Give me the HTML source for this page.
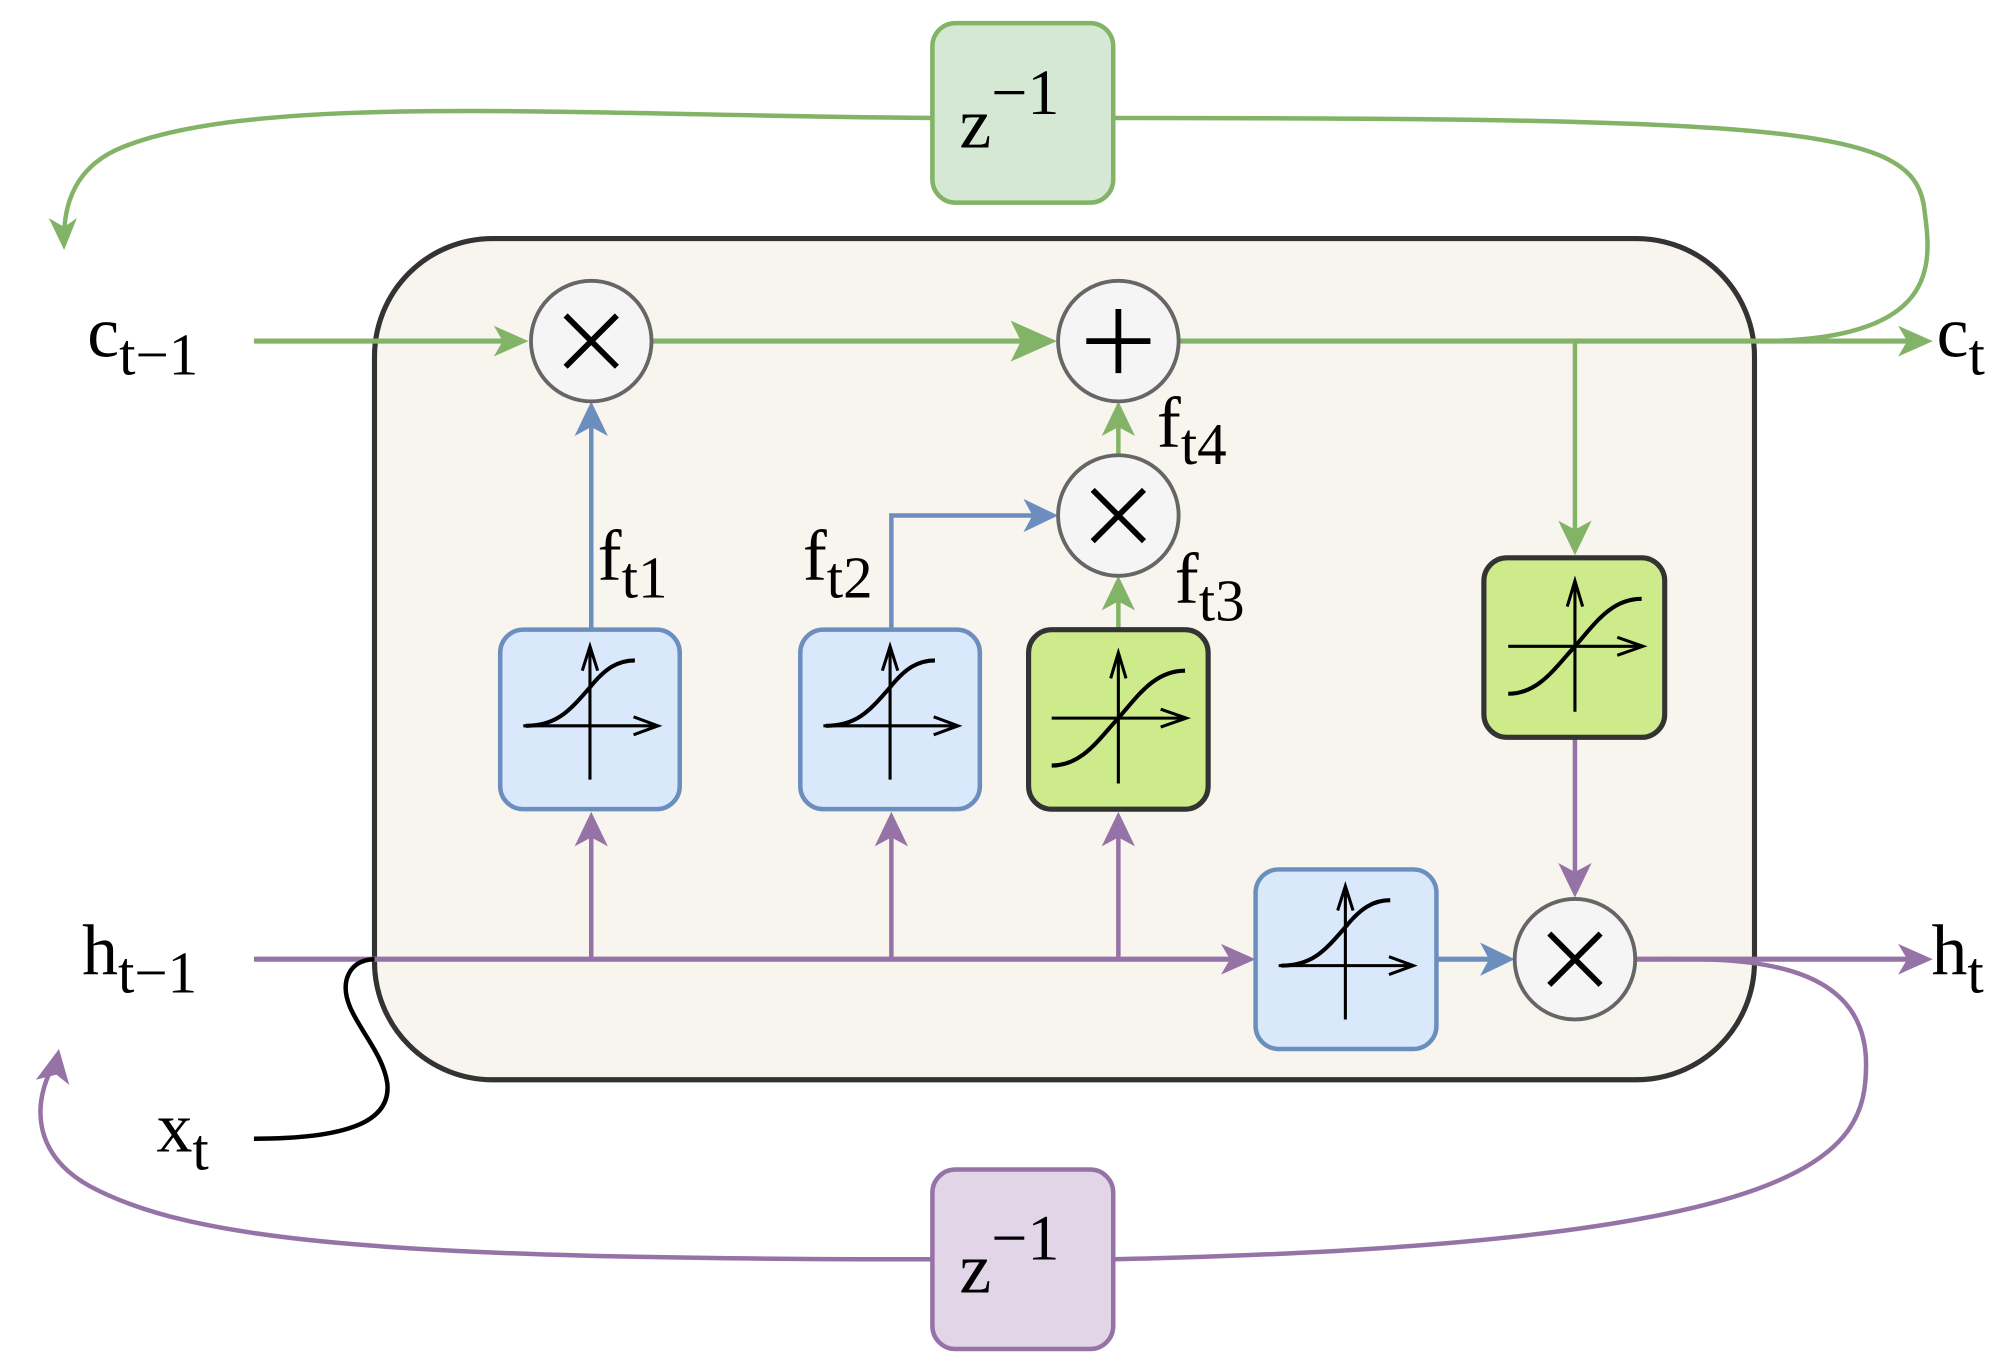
<!DOCTYPE html>
<html><head><meta charset="utf-8"><style>html,body{margin:0;padding:0;background:#fff}svg{display:block}</style></head>
<body>
<svg width="2011" height="1367" viewBox="0 0 1568 1066" preserveAspectRatio="none" xmlns="http://www.w3.org/2000/svg" font-family="'Liberation Serif', serif">
<defs>
<g id="sig"><line x1="0" y1="47" x2="0" y2="-55" stroke="#000" stroke-width="2.4"/><path d="M-6,-38 L0,-57 L6,-38" fill="none" stroke="#000" stroke-width="2.4"/><line x1="-52" y1="5" x2="52" y2="5" stroke="#000" stroke-width="2.4"/><path d="M34,-2 L53,5 L34,12" fill="none" stroke="#000" stroke-width="2.4"/><path d="M-50,5 C-25,5 -15,-8 0,-25 C12,-40 22,-46 35,-46" fill="none" stroke="#000" stroke-width="3.2"/></g>
<g id="tanh"><line x1="0" y1="50" x2="0" y2="-50" stroke="#000" stroke-width="2.4"/><path d="M-6,-32 L0,-52 L6,-32" fill="none" stroke="#000" stroke-width="2.4"/><line x1="-52" y1="-1" x2="52" y2="-1" stroke="#000" stroke-width="2.4"/><path d="M33,-8 L53,-1 L33,6" fill="none" stroke="#000" stroke-width="2.4"/><path d="M-52,36 C-28,36 -15,15 0,-1 C15,-18 28,-38 52,-38" fill="none" stroke="#000" stroke-width="3.2"/></g>
</defs>

<rect x="292" y="186" width="1076" height="656" rx="92" fill="#f7f5ee" stroke="#333" stroke-width="4"/>

<!-- feedback loops -->
<path d="M1370,266 C1520,266 1505,200 1500,160 C1490,100 1400,92 868,92" fill="none" stroke="#82b366" stroke-width="3.5"/>
<path d="M727,92 C450,90 200,72 95,115 C58,130 50,160 50,185" fill="none" stroke="#82b366" stroke-width="3.5"/>
<path d="M38,170 L50,195 L60,170 L50,177Z" fill="#82b366"/>
<path d="M1275,748 C1340,748 1455,740 1455,830 C1455,900 1420,970 868,982" fill="none" stroke="#9673a6" stroke-width="3.5"/>
<path d="M727,982 C300,982 150,968 70,925 C25,900 25,860 42,830" fill="none" stroke="#9673a6" stroke-width="3.5"/>
<path d="M28,842 L46,818 L54,846 L44,838Z" fill="#9673a6"/>

<!-- c line -->
<line x1="198" y1="266" x2="395" y2="266" stroke="#82b366" stroke-width="4"/>
<path d="M385,254 L412,266 L385,278 L392,266Z" fill="#82b366"/>
<line x1="509" y1="266" x2="800" y2="266" stroke="#82b366" stroke-width="4"/>
<path d="M788,250 L824,266 L788,282 L796,266Z" fill="#82b366"/>
<line x1="920" y1="266" x2="1490" y2="266" stroke="#82b366" stroke-width="4"/>
<path d="M1480,254 L1507,266 L1480,278 L1487,266Z" fill="#82b366"/>
<line x1="1228" y1="266" x2="1228" y2="420" stroke="#82b366" stroke-width="3.5"/>
<path d="M1215,406 L1228,433 L1241,406 L1228,413Z" fill="#82b366"/>

<!-- h line -->
<line x1="198" y1="748" x2="962" y2="748" stroke="#9673a6" stroke-width="4"/>
<path d="M952,736 L979,748 L952,760 L959,748Z" fill="#9673a6"/>
<g stroke="#9673a6" stroke-width="3.5"><line x1="461" y1="748" x2="461" y2="645"/><line x1="695" y1="748" x2="695" y2="645"/><line x1="872" y1="748" x2="872" y2="645"/><line x1="1228" y1="575" x2="1228" y2="688"/></g>
<g fill="#9673a6"><path d="M448,660 L461,633 L474,660 L461,653Z"/><path d="M682,660 L695,633 L708,660 L695,653Z"/><path d="M859,660 L872,633 L885,660 L872,653Z"/><path d="M1215,673 L1228,700 L1241,673 L1228,680Z"/></g>
<line x1="1276" y1="748" x2="1490" y2="748" stroke="#9673a6" stroke-width="4"/>
<path d="M1480,736 L1507,748 L1480,760 L1487,748Z" fill="#9673a6"/>

<!-- blue connectors -->
<line x1="461" y1="491" x2="461" y2="328" stroke="#6c8ebf" stroke-width="3.5"/>
<path d="M448,340 L461,313 L474,340 L461,333Z" fill="#6c8ebf"/>
<polyline points="695,491 695,402 812,402" fill="none" stroke="#6c8ebf" stroke-width="3.5"/>
<path d="M798,389 L825,402 L798,415 L805,402Z" fill="#6c8ebf"/>
<line x1="1120" y1="748" x2="1165" y2="748" stroke="#6c8ebf" stroke-width="4"/>
<path d="M1154,735 L1181,748 L1154,761 L1161,748Z" fill="#6c8ebf"/>
<!-- green small -->
<line x1="872" y1="491" x2="872" y2="462" stroke="#82b366" stroke-width="3.5"/>
<path d="M859,476 L872,449 L885,476 L872,469Z" fill="#82b366"/>
<line x1="872" y1="355" x2="872" y2="326" stroke="#82b366" stroke-width="3.5"/>
<path d="M859,340 L872,313 L885,340 L872,333Z" fill="#82b366"/>

<!-- x_t -->
<path d="M198,888 C270,888 305,875 302,845 C298,815 265,790 270,765 C273,752 283,748 292,748" fill="none" stroke="#000" stroke-width="3.5"/>

<!-- circles -->
<g fill="#f5f5f5" stroke="#666" stroke-width="3">
<circle cx="461" cy="266" r="47"/><circle cx="872" cy="266" r="47"/><circle cx="872" cy="402" r="47"/><circle cx="1228" cy="748" r="47"/></g>
<g stroke="#000" stroke-width="4.5">
<path d="M441,246 L481,286 M481,246 L441,286"/>
<path d="M852,382 L892,422 M892,382 L852,422"/>
<path d="M1208,728 L1248,768 M1248,728 L1208,768"/>
<path d="M872,241 L872,291 M847,266 L897,266"/></g>

<!-- boxes -->
<g fill="#dae8fc" stroke="#6c8ebf" stroke-width="3.5">
<rect x="390" y="491" width="140" height="140" rx="18"/><rect x="624" y="491" width="140" height="140" rx="18"/><rect x="979" y="678" width="141" height="140" rx="18"/></g>
<g fill="#cdeb8b" stroke="#333" stroke-width="4">
<rect x="802" y="491" width="140" height="140" rx="18"/><rect x="1157" y="435" width="141" height="140" rx="18"/></g>
<use href="#sig" x="460" y="561"/><use href="#sig" x="694" y="561"/><use href="#sig" x="1049" y="748"/>
<use href="#tanh" x="872" y="561"/><use href="#tanh" x="1228" y="505"/>

<rect x="727" y="18" width="141" height="140" rx="18" fill="#d5e8d4" stroke="#82b366" stroke-width="3.5"/>
<rect x="727" y="912" width="141" height="140" rx="18" fill="#e1d5e7" stroke="#9673a6" stroke-width="3.5"/>

<!-- text -->
<g font-size="56" fill="#000">
<text x="748" y="115">z<tspan dy="-26" font-size="50">−1</tspan></text>
<text x="748" y="1008">z<tspan dy="-26" font-size="50">−1</tspan></text>
<text x="68" y="278">c<tspan dy="14" font-size="46">t−1</tspan></text>
<text x="64" y="760">h<tspan dy="14" font-size="46">t−1</tspan></text>
<text x="122" y="898">x<tspan dy="14" font-size="46">t</tspan></text>
<text x="1510" y="278">c<tspan dy="14" font-size="46">t</tspan></text>
<text x="1506" y="760">h<tspan dy="14" font-size="46">t</tspan></text>
<text x="466" y="452">f<tspan dy="14" font-size="46">t1</tspan></text>
<text x="626" y="452">f<tspan dy="14" font-size="46">t2</tspan></text>
<text x="916" y="470">f<tspan dy="14" font-size="46">t3</tspan></text>
<text x="902" y="348">f<tspan dy="14" font-size="46">t4</tspan></text>
</g>
</svg>
</body></html>
